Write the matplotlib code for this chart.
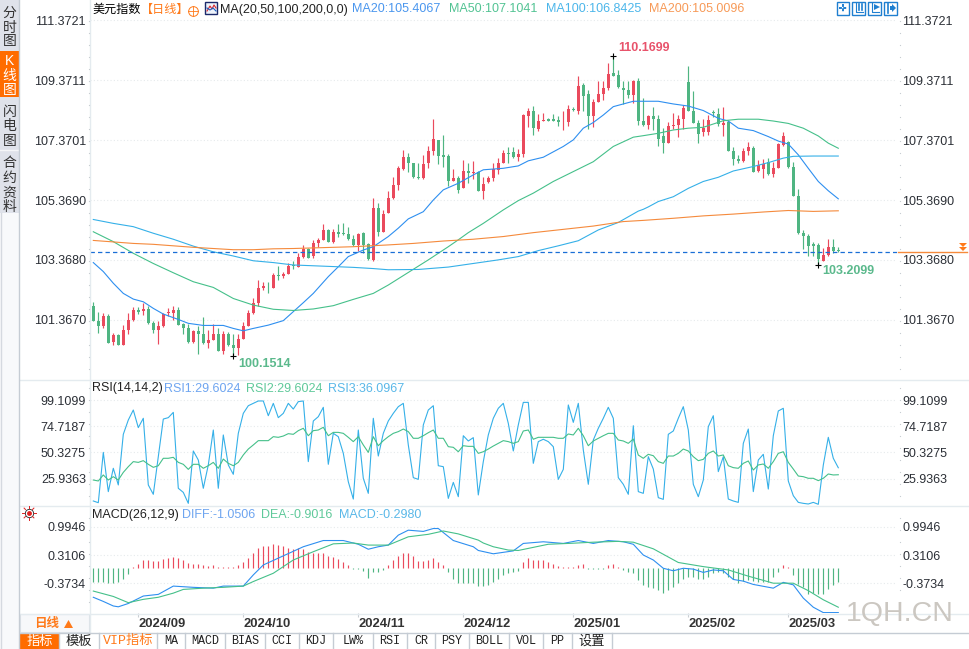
import numpy as np
import matplotlib
matplotlib.use('Agg')
import matplotlib.pyplot as plt
from matplotlib.patches import Rectangle, Polygon

plt.rcParams['font.family'] = ['Liberation Sans', 'Noto Sans CJK SC', 'DejaVu Sans']

# daily candles
open_ = [101.83,101.34,101.16,101.49,100.62,100.85,100.52,101.03,101.36,101.69,
         101.66,101.72,101.26,101.03,101.16,101.58,101.60,101.69,101.23,101.09,
         100.62,100.99,100.89,100.58,100.69,100.89,100.33,100.91,100.52,100.42,
         100.71,101.16,101.58,101.92,102.43,102.47,102.43,102.86,102.82,102.90,
         103.19,103.14,103.46,103.73,103.50,103.94,104.03,104.37,103.96,104.29,
         104.27,104.23,104.07,103.87,104.28,103.89,103.37,105.09,104.31,104.95,
         105.44,105.87,106.40,106.82,106.60,106.15,106.12,106.60,107.01,107.36,
         106.88,106.84,106.01,106.10,105.77,106.34,106.26,106.31,105.68,105.96,
         106.11,106.38,106.62,106.95,106.99,106.82,106.91,108.18,108.36,107.75,
         108.02,108.07,108.07,108.05,107.97,107.98,108.41,108.35,109.22,108.92,
         108.18,108.65,108.92,109.12,109.61,109.55,109.10,109.05,108.88,109.36,
         108.01,107.88,108.18,108.07,107.51,107.29,107.85,107.88,108.08,109.32,
         108.35,107.93,107.65,107.65,108.31,108.25,107.89,107.97,107.00,106.74,
         106.69,107.02,107.12,106.35,106.41,106.63,106.24,106.44,107.21,107.30,
         106.49,105.51,104.26,104.17,103.90,103.87,103.33,103.53,103.80,103.70]
close = [101.34,101.16,101.49,100.60,100.86,100.52,101.03,101.36,101.69,101.63,
         101.72,101.25,101.03,101.16,101.56,101.64,101.69,101.19,101.09,100.62,
         100.99,100.89,100.58,100.69,100.89,100.33,100.89,100.52,100.42,100.74,
         101.16,101.58,101.92,102.42,102.50,102.45,102.86,102.83,102.89,103.18,
         103.15,103.46,103.73,103.43,103.94,104.03,104.37,103.98,104.29,104.23,
         104.23,104.07,103.87,104.23,103.87,103.39,105.11,104.31,104.90,105.44,
         105.87,106.44,106.82,106.62,106.13,106.12,106.58,107.01,107.42,106.84,
         106.81,106.01,106.10,105.71,106.34,106.26,106.30,105.68,105.91,106.11,
         106.40,106.62,106.95,106.90,106.82,106.91,108.22,108.36,107.77,108.01,
         108.05,108.02,108.02,107.98,107.99,108.40,108.38,109.18,108.85,108.18,
         108.65,108.92,109.12,109.58,109.53,109.13,109.05,108.88,109.34,108.02,
         107.88,108.18,108.09,107.42,107.29,107.85,107.88,108.08,108.45,108.36,
         107.93,107.57,107.77,108.05,108.29,107.91,107.95,107.02,106.73,106.68,
         107.01,107.13,106.31,106.54,106.58,106.24,106.44,107.24,107.51,106.46,
         105.52,104.26,104.17,103.84,103.85,103.41,103.53,103.81,103.68,103.66]
high = [101.97,101.64,101.60,101.56,100.94,100.91,101.18,101.60,101.78,101.78,
        101.92,101.83,101.34,101.33,101.60,101.75,101.83,101.78,101.27,101.23,
        101.03,101.16,101.45,101.03,101.23,101.08,101.00,100.97,100.89,100.91,
        101.30,101.69,102.08,102.70,102.64,102.64,102.94,103.18,102.97,103.28,
        103.34,103.61,103.87,103.78,104.03,104.11,104.57,104.39,104.39,104.57,
        104.61,104.46,104.20,104.28,104.29,103.94,105.44,105.26,105.04,105.68,
        106.13,106.51,107.04,106.93,106.62,106.60,106.88,107.18,108.08,107.38,
        107.55,106.91,106.40,106.17,106.71,106.62,106.69,106.35,106.13,106.17,
        106.60,106.77,107.04,107.13,107.13,107.07,108.25,108.44,108.51,108.25,
        108.27,108.10,108.25,108.18,108.36,108.53,108.49,109.52,109.29,109.05,
        108.75,109.34,109.36,109.96,110.17,109.72,109.34,109.36,109.38,109.44,
        108.77,108.21,108.49,108.21,107.77,107.99,108.29,108.21,108.53,109.85,
        109.02,108.05,108.07,108.21,108.38,108.44,108.49,108.05,107.13,106.88,
        107.10,107.32,107.18,106.71,106.73,106.77,106.65,107.29,107.63,107.34,
        106.65,105.73,104.37,104.23,103.98,103.95,103.76,104.07,104.07,103.81]
low = [101.34,100.94,101.11,100.58,100.52,100.52,100.52,100.89,101.34,101.56,
       101.53,101.23,100.94,100.56,101.14,101.50,101.36,101.19,100.89,100.60,
       100.60,100.22,100.56,100.41,100.69,100.33,100.22,100.50,100.15,100.19,
       100.71,101.16,101.56,101.83,102.36,102.28,102.43,102.70,102.75,102.90,
       103.05,103.14,103.44,103.42,103.42,103.81,104.03,103.98,103.94,104.12,
       104.20,104.03,103.83,103.68,103.59,103.36,103.33,104.17,104.30,104.93,
       105.42,105.71,106.38,106.31,106.10,106.07,106.06,106.45,106.88,106.58,
       106.46,105.84,105.99,105.60,105.76,105.95,106.06,105.67,105.41,105.95,
       106.02,106.24,106.60,106.62,106.77,106.68,106.82,107.80,107.55,107.66,
       108.01,108.01,108.01,107.85,107.71,107.85,108.36,108.24,108.36,107.73,
       107.80,108.63,108.71,109.05,109.53,109.10,108.58,108.77,108.60,107.87,
       107.85,107.73,107.71,107.18,106.95,107.27,107.73,107.49,107.73,108.33,
       107.93,107.29,107.51,107.55,108.14,107.85,107.51,107.01,106.55,106.60,
       106.65,106.88,106.30,106.29,106.12,106.21,106.14,106.43,107.16,106.44,
       105.51,104.24,103.72,103.50,103.50,103.21,103.33,103.50,103.59,103.63]

# moving averages, read at a few candles each
ma20_idx = [0,2,4,6,8,10,12,14,17,19,22,26,28,30,32,35,38,40,42,44,47,49,51,54,56,59,61,63,66,68,70,73,76,78,82,85,87,90,94,96,98,100,102,104,106,108,110,113,116,119,122,125,127,129,132,135,137,139,141,143,145,147,149]
ma20 = [103.28,102.98,102.59,102.25,102.06,101.97,101.75,101.56,101.38,101.25,101.18,101.18,101.08,101.00,101.08,101.19,101.34,101.64,101.94,102.25,102.81,103.14,103.48,103.70,103.81,104.15,104.43,104.74,104.98,105.37,105.71,105.93,106.21,106.38,106.43,106.51,106.68,106.80,107.16,107.38,107.77,107.96,108.21,108.49,108.58,108.67,108.67,108.67,108.58,108.51,108.36,108.10,108.01,107.77,107.69,107.49,107.34,107.24,106.88,106.43,105.99,105.68,105.41]
ma50_idx = [0,4,8,12,16,20,24,28,32,36,40,44,48,52,56,59,67,69,71,73,75,78,82,85,88,92,96,100,104,108,110,113,116,119,122,126,129,133,136,139,142,145,147,149]
ma50 = [104.31,103.98,103.59,103.25,102.94,102.64,102.45,102.08,101.86,101.72,101.68,101.73,101.84,102.05,102.25,102.53,103.37,103.59,103.81,104.04,104.28,104.59,105.04,105.35,105.60,105.99,106.32,106.65,107.16,107.47,107.52,107.60,107.71,107.77,107.80,108.02,108.07,108.07,108.01,107.93,107.77,107.51,107.27,107.10]
ma100_idx = [0,4,8,12,16,20,24,28,32,36,40,46,52,56,59,65,71,76,81,85,89,93,97,101,105,109,110,111,113,116,119,122,125,128,132,135,138,140,144,149]
ma100 = [104.72,104.59,104.48,104.26,104.06,103.83,103.64,103.50,103.34,103.28,103.20,103.16,103.12,103.08,103.04,103.05,103.13,103.25,103.37,103.48,103.68,103.84,104.01,104.37,104.62,105.00,105.06,105.14,105.32,105.48,105.76,105.99,106.13,106.34,106.49,106.62,106.77,106.83,106.84,106.84]
ma200_idx = [0,4,8,12,16,20,24,28,32,36,40,46,52,59,64,70,76,82,88,94,100,106,110,116,122,128,134,139,144,149]
ma200 = [104.02,103.97,103.92,103.89,103.84,103.79,103.75,103.71,103.71,103.74,103.75,103.78,103.81,103.87,103.92,104.00,104.06,104.15,104.28,104.39,104.50,104.65,104.69,104.76,104.84,104.90,104.97,105.02,104.99,105.01]

rsi_fast = [5.2,3.6,50.4,13.9,35.6,20.1,67.2,80.5,89.8,73.4,82.1,20.1,11.4,46.4,81.4,82.7,87.6,17,13.2,3,
            51.7,43.3,17,38.7,71.2,17,66.6,38.7,30,68.1,86.7,93.8,96,98.2,98.2,84.5,96,82.7,86.7,96,
            90.7,97.6,98.2,41.8,79.6,83.6,92.3,39.3,68.1,65,49.5,23.1,7,71.2,26.3,12.3,82.1,47,68.1,79.6,
            86.7,92.9,96,57.3,26.9,25.3,75.9,89.8,93.8,38,37.1,7.6,22.5,9.2,65.9,61,64.1,10.8,41.8,66.6,
            82.1,91.4,96,77.4,51.7,75.9,96.9,96.9,40.2,60.4,62.6,60.4,55.7,25.3,34.6,94.5,78.3,96,52.6,20.7,
            61.9,72.8,82.1,92.3,82.1,26.9,20.7,11.4,75.2,13.9,12.3,46.4,34.9,8.3,6.7,67.2,70.3,82.1,92.9,71.2,
            20.7,9.2,24.7,74.3,84.5,32.5,46.4,7,5.2,3.9,58.8,72.1,13.9,43.3,48.6,16.3,65.9,88.9,91.4,23.8,
            10.1,3.9,3,2.4,3.9,2.1,38.6,64.4,44.9,36.1]
rsi_slow = [24.7,23.8,29.4,24.7,27.8,24.7,31.8,37.1,41.8,41.1,42.7,39.3,36.5,38,44.9,44.9,45.8,41.1,39.3,34.6,
            39.3,39.3,35.6,38,41.1,35.6,44.2,40.2,38,41.1,48,53.5,57.3,61.3,61.3,61.3,65,64.4,65.6,67.8,
            67.2,70.6,72.8,65.9,70.6,71.2,73.7,65.9,69,69,68.1,64.4,60.4,65,57.3,50.4,65,56.6,61.3,65,
            68.1,69.7,72.1,69.7,63.5,63.5,65.9,68.7,71.2,63.5,63.5,55.7,55.1,51,56.6,56,56,49.5,51,53.5,
            56.3,58.8,61.3,60.4,58.8,60.4,70.3,71.2,62.6,64.4,64.4,64.4,64.4,63.5,63.5,67.5,66.6,72.8,65.9,56.6,
            61,63.5,65.9,68.1,68.1,61.9,61,58.8,62.8,47.9,44.9,48.6,47.3,41.8,40.2,47,47,49.5,53.5,51.7,
            46.4,42.7,43.9,49.5,51.7,47,48,38,36.2,35.6,40.2,42.4,34,38.7,39.6,35.6,41.8,49.5,51,41.1,
            34.9,28.4,27.8,26.3,26.3,24.1,26.3,30.3,29.4,29.6]

macd_bar = [-.33,-.33,-.35,-.37,-.37,-.35,-.27,-.15,.02,.10,.18,.18,.17,.17,.21,.25,.27,.23,.19,.11,
            .09,.09,.06,.05,.06,.01,.03,.03,.02,.06,.13,.25,.37,.48,.52,.53,.57,.55,.52,.47,
            .45,.47,.45,.39,.37,.37,.35,.29,.27,.21,.14,.07,-.02,-.03,-.07,-.25,-.10,-.10,-.05,.07,
            .19,.29,.37,.37,.29,.17,.17,.19,.23,.14,.07,-.11,-.26,-.37,-.37,-.37,-.37,-.43,-.43,-.42,
            -.35,-.27,-.18,-.13,-.11,-.07,.13,.23,.19,.19,.18,.14,.09,.05,.01,.01,.02,.07,.09,-.02,
            -.03,-.03,-.03,.06,.09,.02,-.05,-.10,-.13,-.30,-.42,-.46,-.48,-.54,-.61,-.53,-.45,-.37,-.27,-.21,
            -.21,-.26,-.26,-.21,-.13,-.11,-.13,-.21,-.27,-.37,-.31,-.29,-.31,-.34,-.34,-.34,-.23,-.11,.07,.02,
            -.18,-.39,-.45,-.64,-.60,-.62,-.64,-.51,-.41,-.34]
diff_idx = [0,2,4,5,7,10,13,16,20,24,26,30,32,34,38,42,46,50,53,55,57,59,61,63,66,68,69,72,76,77,80,84,86,90,94,97,100,103,106,108,110,112,114,116,118,120,122,124,126,128,130,132,136,138,140,142,144,146,149]
diff = [-.71,-.81,-.92,-.94,-.86,-.68,-.64,-.44,-.47,-.49,-.44,-.44,-.17,.07,.29,.51,.66,.66,.57,.45,.51,.55,.79,.91,.88,.95,.95,.66,.51,.42,.34,.41,.59,.63,.59,.66,.59,.66,.63,.57,.31,.19,-.01,-.07,-.01,-.03,-.11,-.05,-.07,-.28,-.32,-.40,-.49,-.35,-.41,-.73,-.95,-1.08,-1.08]
dea_idx = [0,4,7,10,13,16,18,22,26,30,32,36,40,44,48,52,55,59,63,67,70,73,77,78,80,83,85,87,91,95,100,105,108,112,117,122,127,131,136,140,143,146,149]
dea = [-.56,-.69,-.84,-.76,-.71,-.61,-.52,-.49,-.47,-.44,-.33,-.13,.19,.39,.58,.60,.55,.55,.75,.81,.89,.82,.67,.60,.51,.43,.42,.47,.57,.59,.62,.64,.62,.46,.13,.03,-.05,-.20,-.37,-.37,-.55,-.77,-.95]

price_ticks = [111.3721, 109.3711, 107.3701, 105.3690, 103.3680, 101.3670]
rsi_ticks = [99.1099, 74.7187, 50.3275, 25.9363]
macd_ticks = [0.9946, 0.3106, -0.3734]
date_idx = [9, 30, 53, 74, 96, 119, 139]
date_labels = ['2024/09', '2024/10', '2024/11', '2024/12', '2025/01', '2025/02', '2025/03']
last_price = 103.65

RED = '#ea4a5d'
GREEN = '#4fb582'
C_MA20 = '#2e8ff0'
C_MA50 = '#45c08a'
C_MA100 = '#35b0e8'
C_MA200 = '#f58a3c'
GRID = '#e6eaec'
ORANGE = '#ff7a1a'
TICK_SIZE = 9
LINE_W = 0.8

W, H = 969, 649
fig = plt.figure(figsize=(W/100, H/100), dpi=100, facecolor='white')


def panel(top, bottom, ylim, ticks, fmt):
    ax = fig.add_axes([90/W, (H-bottom)/H, (897-90)/W, (bottom-top)/H])
    ax.set_xlim(-0.66, 160.74)
    ax.set_ylim(*ylim)
    for s in ax.spines.values():
        s.set_visible(False)
    ax.set_yticks(ticks, [fmt % t for t in ticks])
    ax.tick_params(axis='y', length=0, pad=3, labelsize=TICK_SIZE, labelcolor='#2b2f36')
    ax.set_xticks([])
    ax.grid(axis='y', color=GRID, lw=0.8, ls=(0, (1, 2)))
    ax.set_axisbelow(True)
    right = ax.secondary_yaxis('right')
    right.set_yticks(ticks, [fmt % t for t in ticks])
    right.tick_params(length=0, pad=4, labelsize=TICK_SIZE, labelcolor='#2b2f36')
    right.spines['right'].set_visible(False)
    return ax


# ---- price panel
ax1 = panel(1, 379, (99.39, 112.02), price_ticks, '%.4f')
idx = np.arange(len(close))
o = np.array(open_)
c = np.array(close)
cols = [RED if c[i] > o[i] else GREEN for i in idx]
ax1.vlines(idx, low, high, colors=cols, lw=0.85, zorder=2)
ax1.bar(idx, np.abs(c-o), bottom=np.minimum(o, c), width=0.68, color=cols, lw=0, zorder=2)
ax1.plot(ma20_idx, ma20, color=C_MA20, lw=LINE_W, zorder=3)
ax1.plot(ma50_idx, ma50, color=C_MA50, lw=LINE_W, zorder=3)
ax1.plot(ma100_idx, ma100, color=C_MA100, lw=LINE_W, zorder=3)
ax1.plot(ma200_idx, ma200, color=C_MA200, lw=LINE_W, zorder=3)
ax1.axhline(last_price, color='#1a6fd6', lw=0.9, ls=(0, (3.5, 2.5)), zorder=4)

# extremes with the little cross
ax1.plot([104, 28, 145], [110.17, 100.15, 103.21], '+', color='black', ms=5, mew=0.8, zorder=5)
ax1.annotate('110.1699', (104, 110.17), xytext=(3.5, 1.5), textcoords='offset points',
             color='#e8536b', fontsize=9, fontweight='bold', va='bottom')
ax1.annotate('100.1514', (28, 100.15), xytext=(3.5, -1), textcoords='offset points',
             color='#5bb98c', fontsize=9, fontweight='bold', va='top')
ax1.annotate('103.2099', (145, 103.21), xytext=(3, -0.5), textcoords='offset points',
             color='#5bb98c', fontsize=9, fontweight='bold', va='top')

# ---- rsi panel
ax2 = panel(380, 505, (1.46, 117.71), rsi_ticks, '%.4f')
ax2.plot(idx, rsi_fast, color='#35b0e8', lw=LINE_W)
ax2.plot(idx, rsi_slow, color=C_MA50, lw=LINE_W)

# ---- macd panel
ax3 = panel(506, 613, (-1.0896, 1.4936), macd_ticks, '%.4f')
mb = np.array(macd_bar)
ax3.vlines(idx, 0, mb, colors=[RED if v > 0 else GREEN for v in mb], lw=0.85)
ax3.plot(diff_idx, diff, color=C_MA20, lw=LINE_W)
ax3.plot(dea_idx, dea, color=C_MA50, lw=LINE_W)
ax3.set_xticks(date_idx, date_labels, ha='left', fontweight='bold', fontsize=9.4, color='#333333')
ax3.tick_params(axis='x', length=3, width=0.8, color='#c9ced3', pad=0.3)

# ---- page furniture, drawn in pixel coordinates over everything
ui = fig.add_axes([0, 0, 1, 1], zorder=10)
ui.set_xlim(0, W)
ui.set_ylim(H, 0)
ui.axis('off')
ui.patch.set_alpha(0)


def rect(x0, y0, x1, y1, fc='none', ec='none', lw=0.8):
    ui.add_patch(Rectangle((x0, y0), x1-x0, y1-y0, facecolor=fc, edgecolor=ec, lw=lw))


def txt(x, y, s, color='black', size=9, ha='left', **kw):
    ui.text(x, y, s, color=color, fontsize=size, ha=ha, va='center', **kw)


# panel separators and axis lines
for y in [379.5, 505.5, 613.5]:
    ui.plot([20, 969], [y, y], color='#e4ebef', lw=1)
ui.plot([90.5, 90.5], [0, 632], color='#e4ebef', lw=1)

# small dots up the two scales
for x in [89, 900]:
    ys = [y for top, bot in [(21, 375), (388, 502), (518, 610)] for y in np.arange(top, bot, 12)]
    ui.plot([x]*len(ys), ys, ls='none', marker='s', ms=0.8, color='#c8cdd2', mew=0)

# left side tabs
rect(0, 0, 19, 649, fc='#f8f9fb')
ui.plot([0.5, 0.5], [213, 649], color='#d5d9e0', lw=1)
rect(0, 0, 19, 213, fc='#dfe2ea')
rect(0, 51, 19, 97, fc='#ff6c00')
ui.plot([0, 19], [149.5, 149.5], color='#f5f6f8', lw=1)
ui.plot([19.5, 19.5], [0, 649], color='#c5ccd4', lw=1)
for y, s in zip([13, 28, 41], '分时图'):
    txt(9.5, y, s, color='#333333', size=10, ha='center')
for y, s in zip([61, 76, 90], 'K线图'):
    txt(9.5, y, s, color='white', size=10, ha='center')
for y, s in zip([112, 126, 141], '闪电图'):
    txt(9.5, y, s, color='#333333', size=10, ha='center')
for y, s in zip([163, 178, 193, 207], '合约资料'):
    txt(9.5, y, s, color='#333333', size=10, ha='center')

# headline of the price panel
txt(92, 9.5, '美元指数', size=8.7)
txt(141, 9.5, '【日线】', color=ORANGE, size=8.7)
ui.plot([193], [11], marker='o', ms=7, mfc='none', mec=ORANGE, mew=0.7)
ui.plot([188, 198], [11, 11], color=ORANGE, lw=0.6)
ui.plot([193, 193], [6, 16], color=ORANGE, lw=0.6)
rect(205.5, 1.5, 217.5, 13.5, fc='#eef3fb', ec='#1c2a6b', lw=1)
ui.plot([207, 210, 212, 214, 216], [11, 6, 9, 5, 8], color='#d8262c', lw=0.8)
ui.plot([207, 210, 213, 216], [8, 10, 8, 11], color='#1c5fc0', lw=0.8)
txt(220, 9.5, 'MA(20,50,100,200,0,0)', color='#222222')
txt(352, 9.5, 'MA20:105.4067', color='#4a96ee')
txt(449, 9.5, 'MA50:107.1041', color='#52c393')
txt(546, 9.5, 'MA100:106.8425', color='#4cb6ea')
txt(649, 9.5, 'MA200:105.0096', color='#f79a58')

# tool icons, top right
for x0, x1 in [(837, 849), (852.5, 865.5), (868.5, 881.5), (884.5, 897)]:
    rect(x0, 1.5, x1, 14.5, ec='#1f7fd0', fc='white', lw=1)
ui.plot([843, 843], [4, 12], color='#1f7fd0', lw=1.4, ls=(0, (1.5, 0.7)))
ui.plot([839, 847], [8, 8], color='#1f7fd0', lw=1.4, ls=(0, (1.5, 0.7)))
ui.plot([856, 856, 863], [3, 12, 12], color='#1f7fd0', lw=0.8)
ui.plot([859, 859], [4, 10], color='#1f7fd0', lw=1.2)
ui.plot([862, 862], [4, 10], color='#1f7fd0', lw=1.2)
ui.plot([872, 872, 879], [3, 12, 12], color='#1f7fd0', lw=0.8)
ui.add_patch(Polygon([(874, 4), (874, 10), (880, 7)], facecolor='#1f7fd0'))
ui.plot([888, 888], [3, 13], color='#1f7fd0', lw=1.2)
ui.add_patch(Polygon([(890, 6), (892, 6), (892, 4), (896, 8), (892, 12), (892, 10), (890, 10)], facecolor='#1f7fd0'))

# last price marker on the right scale
ui.plot([898, 967], [251.5, 251.5], color=C_MA200, lw=1)
ui.add_patch(Polygon([(959, 243), (967, 243), (963, 247)], facecolor=ORANGE))
ui.add_patch(Polygon([(959, 247), (967, 247), (963, 251)], facecolor=ORANGE))

# headlines of the lower panels
txt(92, 388.5, 'RSI(14,14,2)', color='#222222')
txt(164, 388.5, 'RSI1:29.6024', color='#6ea5f0')
txt(246, 388.5, 'RSI2:29.6024', color='#5fc99a')
txt(328, 388.5, 'RSI3:36.0967', color='#5ab8e8')
txt(92, 515, 'MACD(26,12,9)', color='#222222')
txt(182, 515, 'DIFF:-1.0506', color='#6ea5f0')
txt(261, 515, 'DEA:-0.9016', color='#5fc99a')
txt(339, 515, 'MACD:-0.2980', color='#5ab8e8')

# red sun icon next to the macd panel
ui.plot([29], [513], marker='o', ms=3.5, color='#e02020', mew=0)
ui.plot([29], [513], marker='o', ms=6, mfc='none', mec='#222222', mew=0.6)
for dx, dy in [(1, 0), (-1, 0), (0, 1), (0, -1), (.7, .7), (-.7, .7), (.7, -.7), (-.7, -.7)]:
    ui.plot([29+5*dx, 29+7*dx], [513+5*dy, 513+7*dy], color='#e02020', lw=0.7)

# period button
rect(20.5, 614, 89.5, 632, fc='#f7f8fa', ec='#dde3e8')
txt(34, 623.5, '日线', color=ORANGE, size=9, fontweight='bold')
ui.add_patch(Polygon([(64, 628), (73, 628), (68.5, 620)], facecolor=ORANGE))

# bottom tabs
tab_edges = [20, 59, 99, 157, 185, 225, 265, 299, 333, 373, 407, 435, 469, 509, 543, 572, 612]
tab_names = ['指标', '模板', 'VIP指标', 'MA', 'MACD', 'BIAS', 'CCI', 'KDJ', 'LW%', 'RSI', 'CR', 'PSY', 'BOLL', 'VOL', 'PP', '设置']
ui.plot([20, 969], [632.5, 632.5], color='#c5ccd4', lw=1)
rect(20, 633, 59, 649, fc='#ff6c00')
for k, name in enumerate(tab_names):
    x0, x1 = tab_edges[k], tab_edges[k+1]
    ui.plot([x1+.5, x1+.5], [633, 649], color='#c5ccd4', lw=1)
    col = 'white' if k == 0 else (ORANGE if k == 2 else '#222222')
    fam = ['Liberation Mono', 'Noto Sans CJK SC'] if k >= 2 and k < 15 else ['Noto Sans CJK SC']
    txt((x0+x1)/2, 641, name, color=col, size=8.5 if k >= 3 and k < 15 else 9.5, ha='center', family=fam)

# watermark
txt(846, 613.5, '1QH.CN', color='#cbc7c1', size=20.5)

fig.savefig('out.png', dpi=100, facecolor='white')
